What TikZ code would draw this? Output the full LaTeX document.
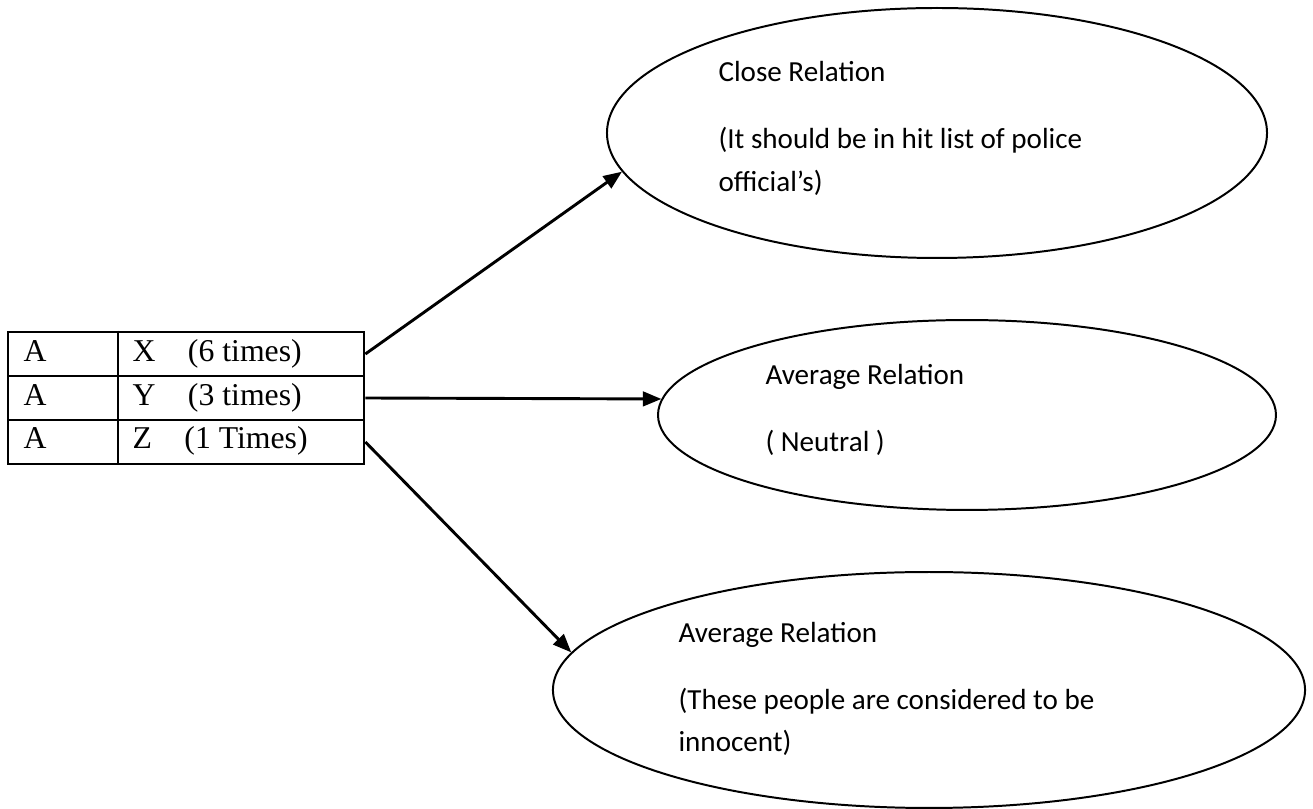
\documentclass[tikz,border=0pt]{standalone}
\usepackage{fontspec}
\setmainfont{Liberation Serif}
\newfontfamily\calib{Carlito}
\usetikzlibrary{shapes.geometric,arrows.meta}
\begin{document}
\begin{tikzpicture}[x=0.378pt,y=-0.378pt,
  ell/.style={draw,ellipse,line width=0.75pt,inner sep=0pt},
  rowbox/.style={draw,line width=1pt,minimum width=134.6pt,minimum height=16.63pt,inner sep=0pt},
  arr/.style={line width=1.1pt,-{Triangle[length=7pt,width=5.5pt]}},
  ctext/.style={anchor=base west,inner sep=0pt,font=\calib\fontsize{11}{13}\selectfont},
  ttext/.style={anchor=base west,inner sep=0pt,font=\fontsize{12}{14}\selectfont}]
\useasboundingbox (0,0) rectangle (1313,809);
% table
\node[rowbox] (r1) at (186,354) {};
\node[rowbox] (r2) at (186,398) {};
\node[rowbox] (r3) at (186,442) {};
\draw[line width=1pt] (r1.north west -| 118,0) coordinate (dtop) -- (r3.south west -| 118,0) coordinate (dbot);
\node[ttext] (a1) at (23,362) {A};
\node[ttext] (a2) at (23,406) {A};
\node[ttext] (a3) at (23,449) {A};
\node[ttext] (b1) at (132,362) {X\hspace{12.3pt}(6 times)};
\node[ttext] (b2) at (132,406) {Y\hspace{12.3pt}(3 times)};
\node[ttext] (b3) at (132,449) {Z\hspace{12.3pt}(1 Times)};
% ellipses
\node[ell,minimum width=249.5pt,minimum height=94.5pt] (e1) at (937,133) {};
\node[ell,minimum width=233.6pt,minimum height=71.8pt] (e2) at (967,415) {};
\node[ell,minimum width=284.3pt,minimum height=89.2pt] (e3) at (929,690) {};
% ellipse texts
\node[ctext] (t11) at (718,82) {Close Relation};
\node[ctext] (t12) at (718,149) {(It should be in hit list of police};
\node[ctext] (t13) at (718,192) {official’s)};
\node[ctext] (t21) at (765,385) {Average Relation};
\node[ctext] (t22) at (765,452) {( Neutral )};
\node[ctext] (t31) at (678,643) {Average Relation};
\node[ctext] (t32) at (678,710) {(These people are considered to be};
\node[ctext] (t33) at (678,752) {innocent)};
% arrows
\draw[arr] (r1.east) -- (e1.187);
\draw[arr] (r2.east) -- (e2.177.6);
\draw[arr] (r3.east) -- (e3.174);
\end{tikzpicture}
\end{document}
